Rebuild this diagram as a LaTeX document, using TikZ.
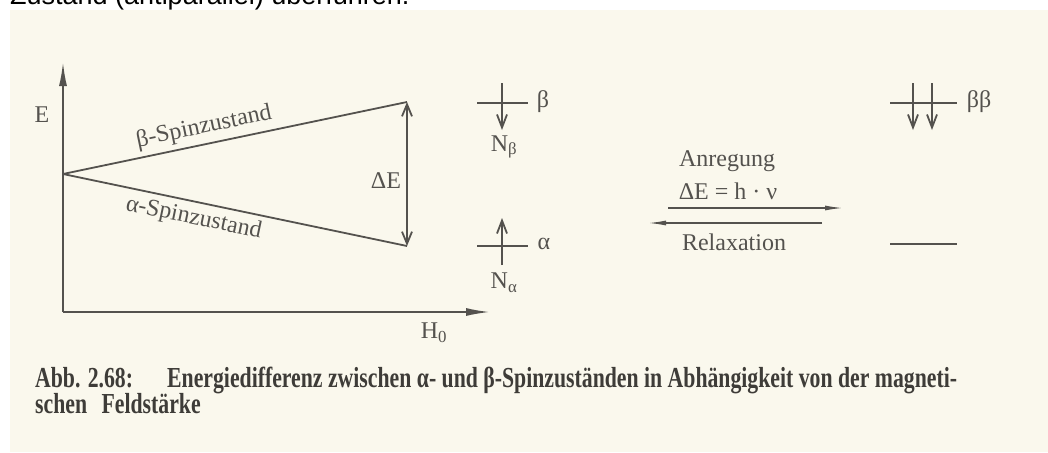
\documentclass[tikz,border=0pt]{standalone}
\usepackage{fontspec}
\setmainfont{Liberation Serif}
\newfontfamily\topfont{Liberation Sans}
\newfontfamily\capfont[FakeStretch=0.75]{Liberation Serif}
\usetikzlibrary{arrows.meta}
\definecolor{paper}{RGB}{250,248,237}
\definecolor{ink}{RGB}{84,82,78}
\definecolor{capink}{RGB}{62,60,56}
\begin{document}
\begin{tikzpicture}[x=1pt,y=-1pt,
  lbl/.style={text=ink, inner sep=0pt, font=\fontsize{24}{28}\selectfont},
  captext/.style={text=capink, inner sep=0pt, anchor=base west, font=\capfont\bfseries\fontsize{29}{33}\selectfont},
  ln/.style={draw=ink, line width=1.8pt},
  axis/.style={ln, -{Latex[length=24pt,width=8pt]}},
  dbl/.style={ln, {Straight Barb[length=12pt,width=10pt]}-{Straight Barb[length=12pt,width=10pt]}},
  spin/.style={ln, -{Straight Barb[length=13pt,width=10pt]}},
  trans/.style={draw=ink, line width=1.4pt, -{Latex[length=18pt,width=5pt]}}]
% background
\fill[white] (0,0) rectangle (1048,452);
\fill[paper] (10,10) rectangle (1048,452);
\begin{scope}
  \clip (0,0) rectangle (1048,10);
  \node[anchor=base west, inner sep=0pt, font=\topfont\fontsize{27}{32}\selectfont] (top) at (10,5) {Zustand (antiparallel) überführen.};
\end{scope}
% axes
\coordinate (O) at (63,312);
\coordinate (Ytip) at (63,62);
\coordinate (Xtip) at (490,312);
\draw[axis] (O) -- (Ytip);
\draw[axis] (O) -- (Xtip);
\node[lbl] (E) at (42,115) {E};
\node[lbl] (H) at (434,333) {H\textsubscript{0}};
% energy lines
\coordinate (S) at (63,174);
\coordinate (B) at (407,102);
\coordinate (A) at (407,246);
\draw[ln] (S) -- node[lbl, sloped, pos=0.42, above, inner sep=5pt] (bs) {β-Spinzustand} (B);
\draw[ln] (S) -- node[lbl, sloped, pos=0.39, below, inner sep=5pt] (as) {α-Spinzustand} (A);
\draw[dbl] (B) -- (A);
\node[lbl] (dE) at (386,181) {ΔE};
% single spin levels
\coordinate (bL) at (477,103); \coordinate (bR) at (528,103);
\coordinate (bT) at (502,83); \coordinate (bD) at (502,130);
\draw[ln] (bL) -- (bR);
\draw[spin] (bT) -- (bD);
\node[lbl] (beta) at (543,102) {β};
\node[lbl] (Nb) at (504,147) {N\textsubscript{β}};
\coordinate (aL) at (477,246); \coordinate (aR) at (528,246);
\coordinate (aT) at (502,218); \coordinate (aD) at (502,265);
\draw[ln] (aL) -- (aR);
\draw[spin] (aD) -- (aT);
\node[lbl] (alpha) at (544,244) {α};
\node[lbl] (Na) at (504,283) {N\textsubscript{α}};
% transitions
\node[lbl] (anr) at (727,161) {Anregung};
\node[lbl] (form) at (728,191) {ΔE = h · ν};
\node[lbl] (rel) at (734,242) {Relaxation};
\coordinate (t1) at (668,208); \coordinate (t2) at (843,208);
\coordinate (r1) at (822,223); \coordinate (r2) at (648,223);
\draw[trans] (t1) -- (t2);
\draw[trans] (r1) -- (r2);
% double spin level
\coordinate (cL) at (890,103); \coordinate (cR) at (957,103);
\draw[ln] (cL) -- (cR);
\coordinate (c1T) at (913,83); \coordinate (c1D) at (913,130);
\coordinate (c2T) at (932,83); \coordinate (c2D) at (932,130);
\draw[spin] (c1T) -- (c1D);
\draw[spin] (c2T) -- (c2D);
\node[lbl] (bb) at (979,102) {ββ};
\coordinate (dL) at (890,244); \coordinate (dR) at (957,244);
\draw[ln] (dL) -- (dR);
% caption
\node[captext] (c1) at (35,387) {Abb. 2.68:};
\node[captext] (c2) at (167,387) {Energiedifferenz zwischen α- und β-Spinzuständen in Abhängigkeit von der magneti-};
\node[captext] (c3) at (35,413) {schen\hspace{0.5em}Feldstärke};
\end{tikzpicture}
\end{document}
